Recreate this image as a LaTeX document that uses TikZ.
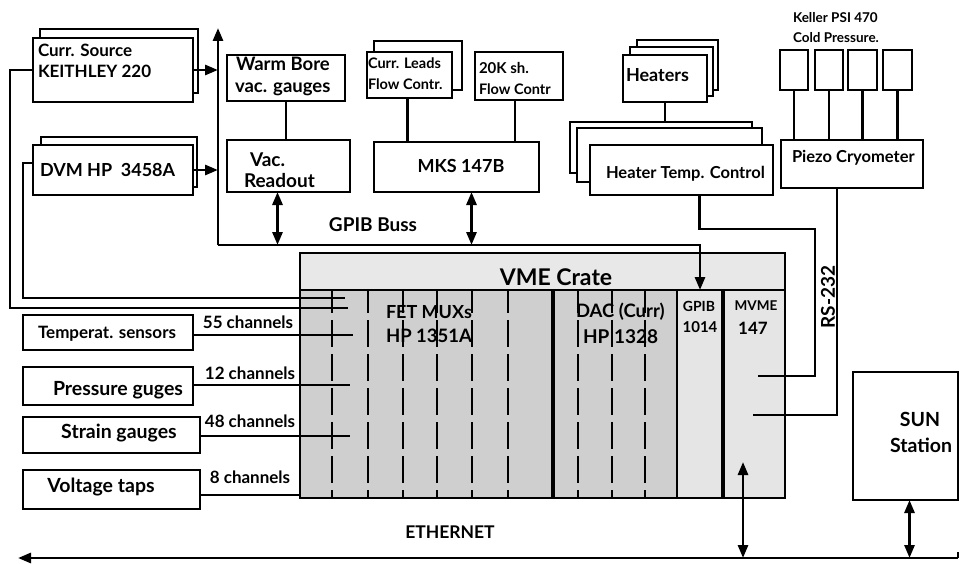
\documentclass[tikz,border=0pt]{standalone}
\usepackage{fontspec}
\setmainfont{Lato}
\usetikzlibrary{arrows.meta}
\newcommand\myfs[1]{\fontsize{#1}{#1}\selectfont\bfseries}
\begin{document}
\begin{tikzpicture}[x=1pt,y=-1pt,
  box/.style={draw, line width=2.8pt, fill=white, inner sep=0pt, outer sep=0pt, anchor=north west},
  wire/.style={line width=2.8pt},
  txt/.style={inner sep=0pt, outer sep=0pt},
  arr/.style={wire, -{Triangle[length=13pt,width=10pt]}},
  darr/.style={wire, {Triangle[length=13pt,width=10pt]}-{Triangle[length=13pt,width=10pt]}},
  slot/.style={line width=2.2pt, dash pattern=on 27pt off 7pt, dash phase=5pt},
]
\useasboundingbox (0,0) rectangle (960,564);

% ---------- top-left instruments
\node[box, minimum width=158pt, minimum height=64pt] (csb) at (40,29) {};
\node[box, minimum width=160pt, minimum height=64pt] (cs) at (33,38) {};
\node[txt, anchor=west] (cst1) at (38,50) {\myfs{17}Curr. Source};
\node[txt, anchor=west] (cst2) at (38,71) {\myfs{17}KEITHLEY 220};

\node[box, minimum width=156pt, minimum height=50pt] (dvmb) at (41,137) {};
\node[box, minimum width=160pt, minimum height=50pt] (dvm) at (33,145) {};
\node[txt, anchor=west] (dvmt) at (40,170) {\myfs{18}DVM HP\ \ 3458A};

\node[box, minimum width=118pt, minimum height=46pt] (wb) at (227,55) {};
\node[txt, anchor=west] (wbt1) at (236,64) {\myfs{18.5}Warm Bore};
\node[txt, anchor=west] (wbt2) at (235,89) {\myfs{18.5}vac. gauges};

\node[box, minimum width=123pt, minimum height=52pt] (vac) at (227,140) {};
\node[txt, anchor=west] (vact1) at (250,160) {\myfs{19}Vac.};
\node[txt, anchor=west] (vact2) at (244,181) {\myfs{19}Readout};

\node[box, minimum width=88pt, minimum height=49pt] (clb) at (374,41) {};
\node[box, minimum width=85pt, minimum height=46pt] (cl) at (367,52) {};
\node[txt, anchor=west] (clt1) at (368,63) {\myfs{14.5}Curr. Leads};
\node[txt, anchor=west] (clt2) at (368,84) {\myfs{14.5}Flow Contr.};

\node[box, minimum width=88pt, minimum height=48pt] (k20) at (475,52) {};
\node[txt, anchor=west] (k20t1) at (479,68) {\myfs{15}20K sh.};
\node[txt, anchor=west] (k20t2) at (479,89) {\myfs{14.5}Flow Contr};

\node[box, minimum width=165pt, minimum height=50pt] (mks) at (374,142) {};
\node[txt] (mkst) at (461,166) {\myfs{18}MKS 147B};

% heaters
\node[box, minimum width=81pt, minimum height=50pt] (hb) at (637,40) {};
\node[box, minimum width=83pt, minimum height=49pt] (hm) at (630,47) {};
\node[box, minimum width=84pt, minimum height=47pt] (hf) at (623,55) {};
\node[txt, anchor=west] (hft) at (626,75) {\myfs{18}Heaters};

\node[box, minimum width=182pt, minimum height=51pt] (htcb) at (570,122) {};
\node[box, minimum width=185pt, minimum height=54pt] (htcm) at (577,128) {};
\node[box, minimum width=183pt, minimum height=50pt] (htc) at (590,145) {};
\node[txt, anchor=west] (htct) at (606,174) {\myfs{16.5}Heater Temp. Control};

% Keller sensors and piezo
\node[txt, anchor=west] (kt1) at (793,18) {\myfs{13.5}Keller PSI 470};
\node[txt, anchor=west] (kt2) at (793,38) {\myfs{13.5}Cold Pressure.};
\node[box, minimum width=28pt, minimum height=40pt] (kp1) at (780,50) {};
\node[box, minimum width=28pt, minimum height=40pt] (kp2) at (815,50) {};
\node[box, minimum width=29pt, minimum height=40pt] (kp3) at (848,50) {};
\node[box, minimum width=29pt, minimum height=40pt] (kp4) at (883,50) {};
\node[box, minimum width=142pt, minimum height=48pt] (pz) at (781,140) {};
\node[txt, anchor=west] (pzt) at (792,158) {\myfs{16.5}Piezo Cryometer};

\foreach \k in {kp1,kp2,kp3,kp4}{\draw[wire] (\k.south) -- (\k.south |- pz.north);}
\draw[wire] (wb.south) -- (wb.south |- vac.north);
\draw[wire] ([xshift=-2pt]cl.south) -- ([xshift=-2pt]cl.south |- mks.north);
\draw[wire] ([xshift=-4pt]k20.south) -- ([xshift=-4pt]k20.south |- mks.north);
\draw[wire] (hf.south) -- (hf.south |- htcb.north);

% ---------- VME crate
\node[box, fill=gray!38, minimum width=485pt, minimum height=245pt] (crate) at (300,253) {};
\fill[gray!18] ([shift={(1.4pt,-1.4pt)}]crate.north west) rectangle (783.6,290);
\fill[gray!20] (677,290) rectangle (783.6,496.6);
\draw[wire] (300,290) -- (785,290);
\draw[line width=3.2pt] (553,290) -- (553,498);
\draw[line width=2.6pt] (677,290) -- (677,498);
\draw[line width=4.2pt] (723,290) -- (723,498);
\foreach \x in {332,368,403,437,472,508,578,612,645}{\draw[slot] (\x,291) -- (\x,497);}
\draw[line width=2.8pt] (crate.north west) rectangle (crate.south east);
\node[txt] (vmet) at (556,277) {\myfs{23}VME Crate};
\node[txt, anchor=west] (fet1) at (386,312) {\myfs{18}FET MUXs};
\node[txt, anchor=west] (fet2) at (386,336) {\myfs{18.5}HP 1351A};
\node[txt, anchor=west] (dac1) at (576,312) {\myfs{18.5}DAC (Curr)};
\node[txt, anchor=west] (dac2) at (583,337) {\myfs{19}HP 1328};
\node[txt] (gp1) at (699,306) {\myfs{14}GPIB};
\node[txt] (gp2) at (700,327) {\myfs{15}1014};
\node[txt] (mv1) at (756,306) {\myfs{13.5}MVME};
\node[txt] (mv2) at (753,328) {\myfs{17}147};

% ---------- GPIB bus
\coordinate (bus) at (218,245);
\coordinate (bustop) at (218,28);
\coordinate (gpibin) at (700,290);
\draw[arr] (bus) -- (bustop);
\draw[arr] (bus) -| (gpibin);
\draw[arr] (cs.east) -- (cs.east -| bus);
\draw[arr] (dvm.east) -- (dvm.east -| bus);
\draw[darr] ([xshift=-11pt]vac.south) -- ([xshift=-11pt]vac.south |- bus);
\draw[darr] ([xshift=15pt]mks.south) -- ([xshift=15pt]mks.south |- bus);
\node[txt] (gbt) at (373,225) {\myfs{19}GPIB Buss};

% ---------- left wires into the crate
\coordinate (in1) at (348,308);
\coordinate (in2) at (345,298);
\draw[wire] (cs.west) -| (10,308) -- (in1);
\draw[wire] ([yshift=7pt]dvm.west) -| (23,298) -- (in2);

% ---------- sensors
\node[box, minimum width=170pt, minimum height=35pt] (temp) at (23,315) {};
\node[txt] (tempt) at (107,334) {\myfs{17}Temperat. sensors};
\node[box, minimum width=170pt, minimum height=38pt] (press) at (23,367) {};
\node[txt] (presst) at (118,390) {\myfs{19.5}Pressure guges};
\node[box, minimum width=177pt, minimum height=36pt] (strain) at (23,417) {};
\node[txt] (straint) at (119,433) {\myfs{19.5}Strain gauges};
\node[box, minimum width=177pt, minimum height=39pt] (volt) at (23,470) {};
\node[txt] (voltt) at (101,487) {\myfs{19.5}Voltage taps};

\coordinate (c55) at (353,335);
\coordinate (c12) at (350,385);
\coordinate (c48) at (350,436);
\coordinate (c8) at (300,495);
\draw[wire] (temp.east |- c55) -- (c55);
\draw[wire] (press.east |- c12) -- (c12);
\draw[wire] (strain.east |- c48) -- (c48);
\draw[wire] (volt.east |- c8) -- (c8);
\node[txt] (l55) at (248,322) {\myfs{17}55 channels};
\node[txt] (l12) at (250,373) {\myfs{17}12 channels};
\node[txt] (l48) at (250,421) {\myfs{17}48 channels};
\node[txt] (l8) at (250,477) {\myfs{17}8 channels};

% ---------- serial lines to MVME
\coordinate (h1) at (815,229);
\coordinate (hend) at (758,376);
\draw[wire] ([xshift=18pt]htc.south) |- (h1) |- (hend);
\coordinate (pend) at (753,415);
\draw[wire] ([xshift=-15pt]pz.south) |- (pend);
\node[txt, rotate=90, anchor=south] (rs) at (835,297) {\myfs{19}RS-232};

% ---------- SUN and ethernet
\node[box, minimum width=105pt, minimum height=128pt] (sun) at (853,372) {};
\node[txt] (sun1) at (920,419) {\myfs{19.5}SUN};
\node[txt] (sun2) at (921,445) {\myfs{19.5}Station};

\coordinate (eR) at (958,558);
\coordinate (eRt) at (958,552);
\coordinate (eL) at (18,558);
\draw[arr] (eR) -- (eL);
\draw[wire] (eR) -- (eRt);
\node[txt] (eth) at (450,532) {\myfs{17.5}ETHERNET};
\coordinate (mv) at (743,462);
\draw[darr] (mv) -- (mv |- eR);
\draw[darr] ([xshift=4pt]sun.south) -- ([xshift=4pt]sun.south |- eR);
\end{tikzpicture}
\end{document}
